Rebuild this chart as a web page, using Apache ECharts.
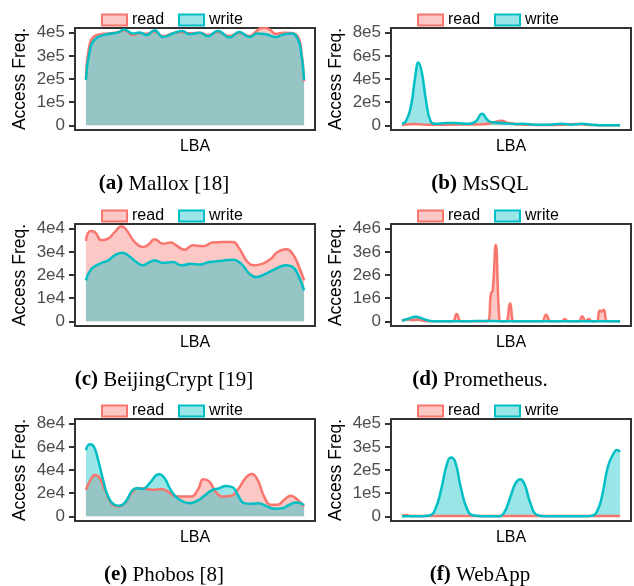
<!DOCTYPE html>
<html>
<head>
<meta charset="utf-8">
<script src="https://cdn.jsdelivr.net/npm/echarts@6/dist/echarts.min.js"></script>
<style>html,body{margin:0;padding:0;background:#fff;}#c{width:634px;height:586px;}</style>
</head>
<body>
<div id="c"></div>
<script>
// ---------- data (LBA position 0..100, access frequency) ----------
const malloxRead = [[0,2.0e5],[1.5,3.4e5],[4,3.85e5],[8,3.95e5],[12,3.98e5],[15,4.03e5],[17.4,4.1e5],[21.6,3.9e5],[24.7,3.98e5],[27.7,3.95e5],[31.5,4.05e5],[35.3,3.85e5],[39.9,3.98e5],[44.1,4.03e5],[47.5,3.97e5],[52.1,4.0e5],[55.9,3.9e5],[60.4,4.03e5],[65.8,3.85e5],[70.3,4.0e5],[74.9,3.85e5],[78,4.05e5],[81,4.22e5],[84,4.15e5],[87.1,3.95e5],[90.9,4.0e5],[94.7,3.98e5],[97,3.85e5],[98.5,3.4e5],[100,1.9e5]];
const malloxWrite = [[0,1.96e5],[1.8,3.24e5],[4.1,3.71e5],[7.9,3.89e5],[11.7,3.96e5],[14.8,4.01e5],[17.4,4.13e5],[21.6,3.96e5],[24.7,4.01e5],[27.7,3.9e5],[31.5,4.1e5],[35.3,3.81e5],[39.9,3.96e5],[44.1,4.07e5],[47.5,3.93e5],[52.1,3.99e5],[55.9,3.84e5],[60.4,4.07e5],[65.8,3.79e5],[70.3,4.03e5],[74.9,3.81e5],[78.7,3.96e5],[82.5,3.93e5],[87.1,3.81e5],[90.9,3.93e5],[94.7,3.96e5],[97,3.74e5],[98.5,3.24e5],[100,1.96e5]];

const mssqlRead = [[0,0.02e5],[6,0.12e5],[12,0.05e5],[20,0.06e5],[30,0.08e5],[36.8,0.1e5],[42,0.25e5],[45.5,0.4e5],[49,0.2e5],[54,0.08e5],[61,0.04e5],[67,0.03e5],[74,0.05e5],[80,0.12e5],[84,0.06e5],[90,0.02e5],[100,0]];
const mssqlWrite = [[0,0.14e5],[1.8,0.34e5],[4.1,1.6e5],[6.1,4.2e5],[7.6,5.43e5],[9.1,4.6e5],[11,2.2e5],[13.2,0.34e5],[15.5,0.14e5],[20.1,0.2e5],[24.7,0.2e5],[30.7,0.14e5],[33.8,0.34e5],[36.8,1.0e5],[39.1,0.49e5],[41.4,0.26e5],[46,0.2e5],[52.1,0.11e5],[55.1,0.14e5],[61.2,0.06e5],[67.3,0.06e5],[73.4,0.14e5],[77.9,0.06e5],[82.5,0.14e5],[87.1,0.06e5],[91.6,0],[100,0]];

const beijingRead = [[0,3.47e4],[2.1,3.9e4],[4.1,3.85e4],[7.2,3.5e4],[10.2,3.57e4],[13.2,3.85e4],[16.3,4.1e4],[18.6,3.93e4],[22.4,3.42e4],[26.2,3.21e4],[28.5,3.3e4],[31.5,3.54e4],[35.3,3.35e4],[39.1,3.4e4],[41.4,3.28e4],[45.2,3.09e4],[49,3.28e4],[53.6,3.24e4],[58.1,3.4e4],[62.7,3.42e4],[67.3,3.42e4],[70.3,3.14e4],[74.1,2.56e4],[77.2,2.42e4],[81,2.49e4],[84.8,2.7e4],[87.8,2.99e4],[91.6,3.11e4],[94.7,2.92e4],[97.7,2.35e4],[100,1.77e4]];
const beijingWrite = [[0,1.77e4],[2.6,2.27e4],[6.4,2.49e4],[10.2,2.63e4],[13.2,2.85e4],[16.7,2.96e4],[19.3,2.85e4],[23.1,2.56e4],[26.2,2.42e4],[28.5,2.52e4],[31.5,2.63e4],[35.3,2.52e4],[39.9,2.56e4],[43.7,2.42e4],[48.2,2.49e4],[52.1,2.45e4],[56.6,2.56e4],[61.2,2.6e4],[67.3,2.66e4],[71.1,2.49e4],[74.9,2.06e4],[77.9,1.91e4],[82.5,2.06e4],[87.1,2.27e4],[91.6,2.42e4],[94.7,2.35e4],[97.7,1.91e4],[100,1.34e4]];

const prometheusRead = [[0,0.02e6],[3.2,0.1e6],[5,0.06e6],[7,0.08e6],[10,0.03e6],[14,0],[20,0],[23.3,0],[25.1,0.32e6],[27,0],[30,0],[38,0],[39.6,0.02e6],[40.8,1.2e6],[41.6,1.33e6],[43,3.29e6],[44.7,0.05e6],[45.7,0],[47.6,0],[49.6,0.78e6],[51.5,0],[55,0],[60,0],[64.1,0],[66.1,0.28e6],[68.1,0],[73.1,0],[74.7,0.1e6],[76.2,0],[81,0],[82.6,0.22e6],[84.2,0.02e6],[85.7,0.1e6],[87.2,0],[89.2,0],[90.7,0.47e6],[91.6,0.42e6],[92.5,0.5e6],[94.2,0],[97,0],[100,0]];
const prometheusWrite = [[0,0.03e6],[3,0.12e6],[6.3,0.2e6],[9.5,0.12e6],[12.3,0.03e6],[16,0],[25,0],[35,0.02e6],[45,0.01e6],[55,0],[70,0],[85,0],[100,0]];

const phobosRead = [[0,2.29e4],[2.1,3.14e4],[4.1,3.57e4],[6.1,3.37e4],[8.7,2.29e4],[11.7,1.14e4],[14.8,0.86e4],[17.8,1.14e4],[20.9,2.0e4],[23.9,2.43e4],[27.7,2.37e4],[31.5,2.29e4],[34.6,2.37e4],[37.6,2.14e4],[40.6,1.77e4],[43.7,1.71e4],[48.2,1.71e4],[51.3,2.29e4],[53.9,3.2e4],[56.6,3.0e4],[59.4,2.14e4],[62.7,1.71e4],[66.5,1.77e4],[69.6,2.29e4],[73.4,3.37e4],[76,3.66e4],[78.7,3.14e4],[81.7,1.71e4],[84.8,1.0e4],[87.8,1.0e4],[90.9,1.43e4],[93.9,1.77e4],[97,1.43e4],[100,0.86e4]];
const phobosWrite = [[0,5.71e4],[1.8,6.23e4],[3.7,6.0e4],[5.6,4.86e4],[7.9,3.14e4],[10.2,1.71e4],[13.2,1.0e4],[15.5,0.91e4],[18.3,1.29e4],[20.9,2.14e4],[23.1,2.43e4],[26.2,2.37e4],[29.2,2.86e4],[33.5,3.63e4],[36.1,3.29e4],[38.4,2.43e4],[41.4,1.66e4],[44.4,1.29e4],[47.5,1.14e4],[50.5,1.29e4],[54.3,1.77e4],[57.4,2.23e4],[61.2,2.43e4],[64.2,2.63e4],[67.3,2.51e4],[69.6,1.86e4],[72.6,1.14e4],[75.6,1.09e4],[78.7,1.14e4],[82.5,0.91e4],[86.3,0.66e4],[90.1,0.71e4],[93.2,1.0e4],[96.2,1.2e4],[100,1.0e4]];

const webappRead = [[0,0.03e5],[2,0.06e5],[4,0.02e5],[20,0.02e5],[40,0.02e5],[60,0.02e5],[80,0.02e5],[100,0.02e5]];
const webappWrite = [[0,0],[6.4,0],[12.5,0.04e5],[15.5,0.36e5],[18.3,1.29e5],[20.5,2.21e5],[22.4,2.54e5],[24.4,2.36e5],[26.9,1.29e5],[30,0.29e5],[33,0.04e5],[39.9,0],[43.7,0],[46.7,0.14e5],[49.8,0.86e5],[52.1,1.43e5],[54.3,1.6e5],[56.3,1.36e5],[58.9,0.57e5],[61.9,0.06e5],[65.8,0],[82.5,0],[87.1,0.03e5],[89.8,0.29e5],[92,1.0e5],[94.4,2.14e5],[97,2.71e5],[98.5,2.86e5],[100,2.79e5]];

// tick values and labels
const ticks1e5 = [0,1e5,2e5,3e5,4e5];   const labels1e5 = ['0','1e5','2e5','3e5','4e5'];
const ticks2e5 = [0,2e5,4e5,6e5,8e5];   const labels2e5 = ['0','2e5','4e5','6e5','8e5'];
const ticks1e4 = [0,1e4,2e4,3e4,4e4];   const labels1e4 = ['0','1e4','2e4','3e4','4e4'];
const ticks1e6 = [0,1e6,2e6,3e6,4e6];   const labels1e6 = ['0','1e6','2e6','3e6','4e6'];
const ticks2e4 = [0,2e4,4e4,6e4,8e4];   const labels2e4 = ['0','2e4','4e4','6e4','8e4'];

const captionBold = ['(a)','(b)','(c)','(d)','(e)','(f)'];
const captionText = [' Mallox [18]',' MsSQL',' BeijingCrypt [19]',' Prometheus.',' Phobos [8]',' WebApp'];
const seriesNames = ['read','write'];

// ---------- layout ----------
const panels = [
  {left:75,  top:28,  read:malloxRead,     write:malloxWrite,     ticks:ticks1e5, labels:labels1e5},
  {left:391, top:28,  read:mssqlRead,      write:mssqlWrite,      ticks:ticks2e5, labels:labels2e5},
  {left:75,  top:224, read:beijingRead,    write:beijingWrite,    ticks:ticks1e4, labels:labels1e4},
  {left:391, top:224, read:prometheusRead, write:prometheusWrite, ticks:ticks1e6, labels:labels1e6},
  {left:75,  top:419, read:phobosRead,     write:phobosWrite,     ticks:ticks2e4, labels:labels2e4},
  {left:391, top:419, read:webappRead,     write:webappWrite,     ticks:ticks1e5, labels:labels1e5}
];
const W = 240, H = 102;
const RED = '#F8766D', TEAL = '#00BFC4';
const SANS = '"Liberation Sans", Arial, Helvetica, sans-serif';
const SERIF = '"Liberation Serif", "Times New Roman", serif';

const grid = [], xAxis = [], yAxis = [], series = [], legend = [], graphic = [];
panels.forEach((p, i) => {
  const u = p.ticks[1];
  grid.push({left:p.left, top:p.top, width:W, height:H, show:true, borderColor:'#333', borderWidth:2, backgroundColor:'transparent', containLabel:false});
  xAxis.push({gridIndex:i, type:'value', min:-5, max:105, position:'bottom',
    axisLine:{show:false, onZero:false}, axisTick:{show:false}, axisLabel:{show:false}, splitLine:{show:false},
    name:'LBA', nameLocation:'middle', nameGap:9, nameTextStyle:{color:'#000', fontSize:16, fontFamily:SANS}});
  yAxis.push({gridIndex:i, type:'value', min:-0.2*u, max:4.2*u, position:'left',
    axisLine:{show:false, onZero:false}, splitLine:{show:false},
    axisTick:{show:true, customValues:p.ticks, length:6, inside:false, lineStyle:{color:'#333', width:2}},
    axisLabel:{customValues:p.ticks, margin:10, color:'#4d4d4d', fontSize:17, fontFamily:SANS,
      formatter:(v) => { const k = p.ticks.findIndex(t => Math.abs(t - v) < u*1e-6); return k >= 0 ? p.labels[k] : ''; }},
    name:'Access Freq.', nameLocation:'middle', nameGap:46, nameTextStyle:{color:'#000', fontSize:17.5, fontFamily:SANS}});
  [[p.read, RED, seriesNames[0]], [p.write, TEAL, seriesNames[1]]].forEach(([d, c, n]) => {
    series.push({type:'line', name:n, xAxisIndex:i, yAxisIndex:i, data:d, smooth:0.5,
      showSymbol:false, symbol:'none', silent:true, animation:false,
      lineStyle:{color:c, width:2.5}, itemStyle:{color:c},
      areaStyle:{color:c, opacity:0.4}});
  });
  legend.push({left:p.left+26, top:p.top-16, orient:'horizontal', itemWidth:25, itemHeight:11, itemGap:14,
    icon:'rect', selectedMode:false, padding:0,
    textStyle:{color:'#000', fontSize:16, fontFamily:SANS, padding:[0,0,0,0]},
    data:[
      {name:'read', itemStyle:{color:'rgba(248,118,109,0.4)', borderColor:RED, borderWidth:2}},
      {name:'write', itemStyle:{color:'rgba(0,191,196,0.4)', borderColor:TEAL, borderWidth:2}}
    ]});
  graphic.push({type:'text', x:p.left+89, y:p.top+156,
    style:{text:'{b|' + captionBold[i] + '}' + captionText[i], align:'center', verticalAlign:'middle',
      font:'21px ' + SERIF, fill:'#000',
      rich:{b:{fontWeight:'bold', fontSize:21, fontFamily:SERIF, fill:'#000'}}}});
});

const chart = echarts.init(document.getElementById('c'), null, {renderer:'canvas'});
chart.setOption({animation:false, backgroundColor:'#fff', grid, xAxis, yAxis, series, legend, graphic});
</script>
</body>
</html>
